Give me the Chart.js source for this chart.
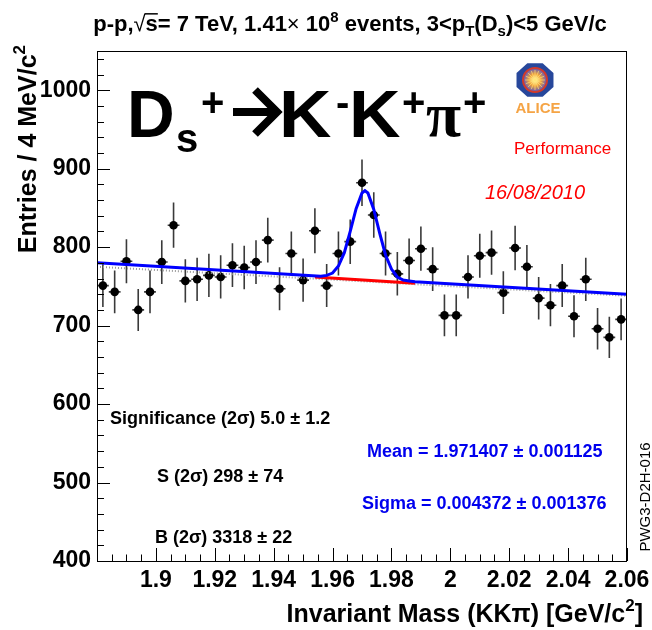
<!DOCTYPE html>
<html>
<head>
<meta charset="utf-8">
<script src="https://cdn.jsdelivr.net/npm/chart.js@4.4.0/dist/chart.umd.min.js"></script>
<style>
  html, body { margin: 0; background: #fff; }
  canvas { display: block; }
</style>
</head>
<body>
<canvas id="c" width="652" height="630"></canvas>
<script>
// ── data (4 MeV bins) ──
const massBins = [1.882, 1.886, 1.890, 1.894, 1.898, 1.902, 1.906, 1.910, 1.914, 1.918,
  1.922, 1.926, 1.930, 1.934, 1.938, 1.942, 1.946, 1.950, 1.954, 1.958,
  1.962, 1.966, 1.970, 1.974, 1.978, 1.982, 1.986, 1.990, 1.994, 1.998,
  2.002, 2.006, 2.010, 2.014, 2.018, 2.022, 2.026, 2.030, 2.034, 2.038,
  2.042, 2.046, 2.050, 2.054, 2.058];
const entries = [751, 743, 782, 720, 743, 781, 828, 757, 759, 764,
  762, 777, 774, 781, 809, 747, 792, 758, 821, 751,
  792, 807, 882, 841, 792, 766, 783, 798, 772, 713,
  713, 762, 789, 793, 742, 799, 775, 735, 726, 751,
  712, 759, 696, 685, 708];
const entryErrors = [27.4, 27.3, 28.0, 26.8, 27.3, 27.9, 28.8, 27.5, 27.5, 27.6,
  27.6, 27.9, 27.8, 27.9, 28.4, 27.3, 28.1, 27.5, 28.7, 27.4,
  28.1, 28.4, 29.7, 29.0, 28.1, 27.7, 28.0, 28.2, 27.8, 26.7,
  26.7, 27.6, 28.1, 28.2, 27.2, 28.3, 27.8, 27.1, 26.9, 27.4,
  26.7, 27.5, 26.4, 26.2, 26.6];
const binHalfWidth = 0.002;

// total fit (blue)
const fitX = [1.880, 1.956, 1.958, 1.960, 1.962, 1.964, 1.966, 1.968, 1.970, 1.971,
  1.972, 1.974, 1.976, 1.978, 1.980, 1.982, 1.984, 1.986, 1.988, 2.060];
const fitY = [780, 763, 764, 767, 776, 793, 820, 849, 869, 872,
  869, 848, 818, 790, 772, 762, 758, 757, 756, 740];
// background under the peak (red)
const sigBkgX = [1.954, 1.988];
const sigBkgY = [762, 754];
// side-band background (grey dotted)
const bkgX = [1.880, 2.060];
const bkgY = [775, 738];

const xTickValues = [1.88, 1.9, 1.92, 1.94, 1.96, 1.98, 2, 2.02, 2.04, 2.06];
const yTickValues = [400, 500, 600, 700, 800, 900, 1000];

const SANS = "'Liberation Sans', Arial, Helvetica, sans-serif";
const SERIF = "'Liberation Serif', 'Times New Roman', serif";

const pts = (xs, ys) => xs.map((x, i) => ({ x, y: ys[i] }));

function richText(ctx, segs, x, y, align, base) {
  const fontOf = s => `${s.style || ''} ${s.weight || base.weight} ${s.size || base.size}px ${s.family || base.family}`;
  let total = 0;
  segs.forEach(s => {
    ctx.font = fontOf(s);
    s._w = ctx.measureText(s.t).width;
    total += s._w + (s.gap || 0);
  });
  let cx = align === 'center' ? x - total / 2 : align === 'right' ? x - total : x;
  segs.forEach(s => {
    ctx.font = fontOf(s);
    ctx.fillStyle = s.color || base.color;
    ctx.fillText(s.t, cx, y + (s.dy || 0));
    if (s.over) {
      ctx.strokeStyle = s.color || base.color;
      ctx.lineWidth = 1.5;
      ctx.beginPath();
      ctx.moveTo(cx - 1, y - (s.size || base.size) * 0.78);
      ctx.lineTo(cx + s._w, y - (s.size || base.size) * 0.78);
      ctx.stroke();
    }
    cx += s._w + (s.gap || 0);
  });
}

function drawLogo(ctx, cx, cy) {
  ctx.save();
  ctx.beginPath();
  for (let k = 0; k < 8; k++) {
    const a = Math.PI / 8 + k * Math.PI / 4;
    const px = cx + 20 * Math.cos(a), py = cy + 18 * Math.sin(a);
    k ? ctx.lineTo(px, py) : ctx.moveTo(px, py);
  }
  ctx.closePath();
  ctx.fillStyle = '#27479b';
  ctx.fill();
  ctx.beginPath();
  ctx.arc(cx, cy, 13, 0, Math.PI * 2);
  ctx.fillStyle = '#d23a2a';
  ctx.fill();
  const g = ctx.createRadialGradient(cx, cy, 1, cx, cy, 11);
  g.addColorStop(0, '#fff4a0');
  g.addColorStop(0.5, '#f2a23a');
  g.addColorStop(1, '#6d5fb0');
  ctx.beginPath();
  ctx.arc(cx, cy, 11, 0, Math.PI * 2);
  ctx.fillStyle = g;
  ctx.fill();
  ctx.strokeStyle = 'rgba(255,230,120,0.8)';
  ctx.lineWidth = 0.8;
  for (let k = 0; k < 16; k++) {
    const a = k * Math.PI / 8;
    ctx.beginPath();
    ctx.moveTo(cx, cy);
    ctx.lineTo(cx + 10 * Math.cos(a), cy + 10 * Math.sin(a));
    ctx.stroke();
  }
  ctx.font = `bold 15px ${SANS}`;
  ctx.fillStyle = '#f5a445';
  ctx.textAlign = 'center';
  ctx.fillText('ALICE', cx + 3, cy + 33);
  ctx.restore();
}

const rootStyle = {
  id: 'rootStyle',
  beforeDatasetsDraw(chart) {
    const { ctx, scales: { x, y } } = chart;
    ctx.save();
    ctx.strokeStyle = '#3a3a3a';
    ctx.lineWidth = 1.6;
    massBins.forEach((m, i) => {
      const px = x.getPixelForValue(m);
      const py = y.getPixelForValue(entries[i]);
      ctx.beginPath();
      ctx.moveTo(px, y.getPixelForValue(entries[i] + entryErrors[i]));
      ctx.lineTo(px, y.getPixelForValue(entries[i] - entryErrors[i]));
      ctx.moveTo(x.getPixelForValue(m - binHalfWidth), py);
      ctx.lineTo(x.getPixelForValue(m + binHalfWidth), py);
      ctx.stroke();
    });
    ctx.restore();
  },
  afterDraw(chart) {
    const { ctx, chartArea: a, scales: { x, y } } = chart;
    ctx.save();
    ctx.textAlign = 'left';
    ctx.textBaseline = 'alphabetic';

    // frame
    ctx.strokeStyle = '#000';
    ctx.lineWidth = 1;
    ctx.strokeRect(a.left + 0.5, a.top + 0.5, a.right - a.left - 1, a.bottom - a.top);

    // inward ticks
    ctx.beginPath();
    for (let v = 400; v <= 1040; v += 20) {
      const py = Math.round(y.getPixelForValue(v)) + 0.5;
      ctx.moveTo(a.left, py);
      ctx.lineTo(a.left + (v % 100 === 0 ? 13 : 7), py);
    }
    for (let k = 0; k <= 36; k++) {
      const v = 1.88 + k * 0.005;
      const px = Math.round(x.getPixelForValue(v)) + 0.5;
      ctx.moveTo(px, a.bottom);
      ctx.lineTo(px, a.bottom - (k % 4 === 0 ? 13 : 6.5));
    }
    ctx.stroke();

    const base = { weight: 'bold', size: 22, family: SANS, color: '#000' };

    // title
    richText(ctx, [
      { t: 'p-p,' }, { t: '√', weight: 'normal' }, { t: 's', over: true },
      { t: '= 7 TeV, 1.41' }, { t: '×', weight: 'normal' }, { t: ' 10' },
      { t: '8', size: 15, dy: -9 }, { t: ' events, 3<p' },
      { t: 'T', size: 15, dy: 5 }, { t: '(D' }, { t: 's', size: 15, dy: 5 },
      { t: ')<5 GeV/c' }
    ], 350, 31, 'center', base);

    // y axis title
    ctx.save();
    ctx.translate(36, 45);
    ctx.rotate(-Math.PI / 2);
    richText(ctx, [
      { t: 'Entries / 4 MeV/c' }, { t: '2', size: 17, dy: -11 }
    ], 0, 0, 'right', { weight: 'bold', size: 25, family: SANS, color: '#000' });
    ctx.restore();

    // x axis title
    richText(ctx, [
      { t: 'Invariant Mass (KKπ) [GeV/c' }, { t: '2', size: 17, dy: -11 }, { t: ']' }
    ], 643, 622, 'right', { weight: 'bold', size: 25, family: SANS, color: '#000' });

    // decay channel
    ctx.fillStyle = '#000';
    ctx.font = `bold 66px ${SANS}`;
    ctx.fillText('D', 127, 137);
    ctx.save();
    ctx.translate(279, 137);
    ctx.scale(1.1, 1);
    ctx.fillText('K', 0, 0);
    ctx.restore();
    ctx.save();
    ctx.translate(349, 137);
    ctx.scale(1.08, 1);
    ctx.fillText('K', 0, 0);
    ctx.restore();
    ctx.font = `bold 40px ${SANS}`;
    ctx.fillText('s', 176, 152);
    ctx.fillText('+', 201, 116);
    ctx.fillText('-', 336, 116);
    ctx.fillText('+', 402, 116);
    ctx.fillText('+', 463, 116);
    ctx.font = `bold 64px ${SERIF}`;
    ctx.fillText('π', 426, 136);
    // arrow
    ctx.strokeStyle = '#000';
    ctx.lineWidth = 8;
    ctx.lineJoin = 'miter';
    ctx.beginPath();
    ctx.moveTo(233, 112);
    ctx.lineTo(274, 112);
    ctx.moveTo(255, 90);
    ctx.lineTo(277, 112);
    ctx.lineTo(255, 134);
    ctx.stroke();

    // logo and labels
    drawLogo(ctx, 535, 80);
    ctx.fillStyle = '#ff0000';
    ctx.font = `17px ${SANS}`;
    ctx.fillText('Performance', 514, 154);
    ctx.font = `italic 20px ${SANS}`;
    ctx.fillText('16/08/2010', 485, 199);

    // fit results
    const ann = { weight: 'bold', size: 18, family: SANS, color: '#000' };
    richText(ctx, [{ t: 'Significance (2σ) 5.0 ± 1.2' }], 110, 424, 'left', ann);
    richText(ctx, [{ t: 'S (2σ) 298 ± 74' }], 157, 482, 'left', ann);
    richText(ctx, [{ t: 'B (2σ) 3318 ± 22' }], 155, 543, 'left', ann);
    const blue = { ...ann, color: '#0000ee' };
    richText(ctx, [{ t: 'Mean = 1.971407 ± 0.001125' }], 367, 457, 'left', blue);
    richText(ctx, [{ t: 'Sigma = 0.004372 ± 0.001376' }], 362, 509, 'left', blue);

    // tag
    ctx.save();
    ctx.translate(650, 497);
    ctx.rotate(-Math.PI / 2);
    ctx.font = `15px ${SANS}`;
    ctx.fillStyle = '#000';
    ctx.textAlign = 'center';
    ctx.fillText('PWG3-D2H-016', 0, 0);
    ctx.restore();

    ctx.restore();
  }
};

const tickFont = { family: SANS, size: 23, weight: 'bold' };

new Chart(document.getElementById('c'), {
  type: 'scatter',
  data: {
    datasets: [
      {
        label: 'fit',
        data: pts(fitX, fitY),
        showLine: true,
        borderColor: '#0000ff',
        borderWidth: 3,
        pointRadius: 0,
        tension: 0,
        order: 0
      },
      {
        label: 'bkg signal region',
        data: pts(sigBkgX, sigBkgY),
        showLine: true,
        borderColor: '#ff0000',
        borderWidth: 3,
        pointRadius: 0,
        order: 1
      },
      {
        label: 'bkg',
        data: pts(bkgX, bkgY),
        showLine: true,
        borderColor: '#999999',
        borderWidth: 2,
        borderDash: [1, 2],
        pointRadius: 0,
        order: 2
      },
      {
        label: 'data',
        data: pts(massBins, entries),
        pointRadius: 4.3,
        pointBackgroundColor: '#000',
        pointBorderWidth: 0,
        order: 3
      }
    ]
  },
  options: {
    responsive: false,
    animation: false,
    devicePixelRatio: 1,
    layout: { padding: { top: 51, right: 25, left: 0, bottom: 0 } },
    plugins: { legend: { display: false }, tooltip: { enabled: false }, title: { display: false } },
    scales: {
      x: {
        type: 'linear',
        min: 1.88,
        max: 2.06,
        afterBuildTicks: s => { s.ticks = xTickValues.map(v => ({ value: v })); },
        afterFit: s => { s.height = 69; s.paddingLeft = 0; s.paddingRight = 0; },
        ticks: {
          callback: v => (v === 1.88 ? '' : String(v)),
          font: tickFont, color: '#000', padding: 6, maxRotation: 0, autoSkip: false
        },
        grid: { display: false, drawTicks: false },
        border: { display: false }
      },
      y: {
        type: 'linear',
        min: 400,
        max: 1050,
        afterBuildTicks: s => { s.ticks = yTickValues.map(v => ({ value: v })); },
        afterFit: s => { s.width = 97; s.paddingTop = 0; s.paddingBottom = 0; },
        ticks: { callback: v => String(v), font: tickFont, color: '#000', padding: 6 },
        grid: { display: false, drawTicks: false },
        border: { display: false }
      }
    }
  },
  plugins: [rootStyle]
});
</script>
</body>
</html>
